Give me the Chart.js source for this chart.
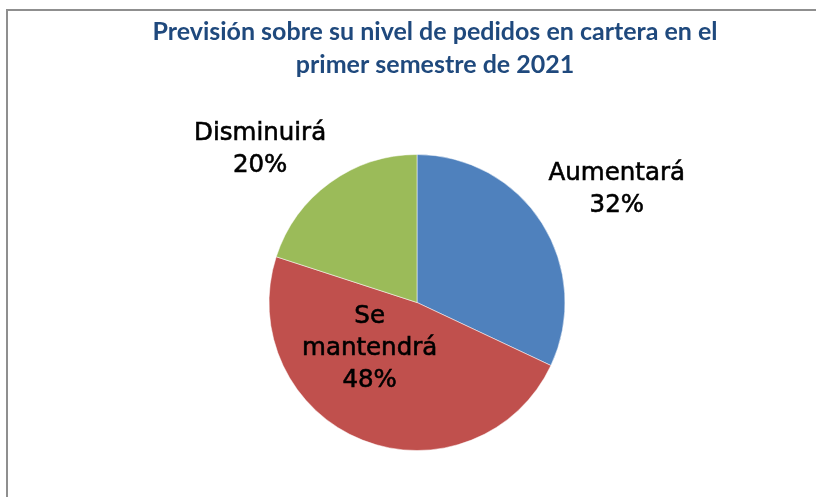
<!DOCTYPE html>
<html>
<head>
<meta charset="utf-8">
<script src="https://cdn.jsdelivr.net/npm/chart.js@4"></script>
<style>
  html, body { margin: 0; padding: 0; overflow: hidden; background: #fff; }
  #frame {
    position: absolute; left: 6px; top: 9px; width: 900px; height: 600px;
    border-left: 2px solid #8f8f8f; border-top: 2px solid #8f8f8f;
  }
  #wrap { position: absolute; left: 0; top: 0; width: 816px; height: 497px; }
</style>
</head>
<body>
<div id="frame"></div>
<div id="wrap"><canvas id="myChart"></canvas></div>
<script>
var Categories = ["Aumentará", "Se mantendrá", "Disminuirá"];
var Values = [32, 48, 20];
var Colors = ["#4F81BD", "#C0504D", "#9BBB59"];
var TitleLines = ["Previsión sobre su nivel de pedidos en cartera en el", "primer semestre de 2021"];

// where each label sits, relative to the pie centre, in units of radius
const labelSpots = [
  { x: 1.35, y: -0.76, lines: ["Aumentará"] },
  { x: -0.32, y: 0.31, lines: ["Se", "mantendrá"] },
  { x: -1.06, y: -1.03, lines: ["Disminuirá"] },
];

// title drawn by hand so it is not squeezed into the padded chart width
const chartTitle = {
  id: "chartTitle",
  afterDraw(chart) {
    const ctx = chart.ctx;
    ctx.save();
    ctx.font = "bold 25px Lato";
    ctx.fillStyle = "#1F497D";
    ctx.textAlign = "center";
    ctx.textBaseline = "alphabetic";
    TitleLines.forEach((t, i) => ctx.fillText(t, 435, 40 + i * 33));
    ctx.restore();
  },
};

const pieLabels = {
  id: "pieLabels",
  afterDatasetsDraw(chart) {
    const ctx = chart.ctx;
    const meta = chart.getDatasetMeta(0);
    ctx.save();
    ctx.font = "24.5px 'DejaVu Sans'";
    ctx.fillStyle = "#000";
    ctx.strokeStyle = "#000";
    ctx.lineWidth = 0.6; // a touch heavier, like the original
    ctx.textAlign = "center";
    ctx.textBaseline = "middle";
    meta.data.forEach((arc, i) => {
      const spot = labelSpots[i];
      const cx = arc.x + spot.x * arc.outerRadius;
      const cy = arc.y + spot.y * arc.outerRadius;
      const lines = spot.lines.concat([Values[i] + "%"]);
      const lh = 32;
      const top = cy - ((lines.length - 1) * lh) / 2;
      lines.forEach((t, j) => {
        ctx.fillText(t, cx, top + j * lh);
        ctx.strokeText(t, cx, top + j * lh);
      });
    });
    ctx.restore();
  },
};

const ctx = document.getElementById("myChart").getContext("2d");
const config = {
  type: "pie",
  data: {
    labels: Categories,
    datasets: [
      {
        data: Values,
        backgroundColor: Colors,
        borderColor: "rgba(255,255,255,0.5)",
        borderWidth: 1,
      },
    ],
  },
  options: {
    responsive: true,
    maintainAspectRatio: false,
    animation: false,
    layout: {
      padding: { left: 268, right: 250, top: 154, bottom: 46 },
    },
    plugins: {
      legend: { display: false },
      tooltip: { enabled: false },
      title: { display: false },
    },
  },
  plugins: [pieLabels, chartTitle],
};
new Chart(ctx, config);
</script>
</body>
</html>
